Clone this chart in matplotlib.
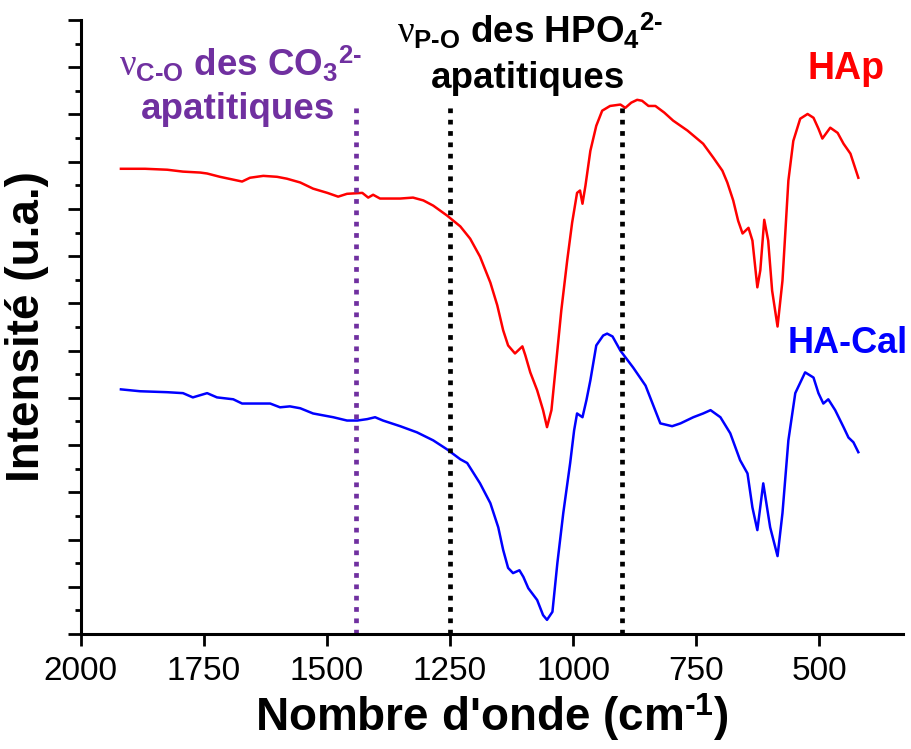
import numpy as np
import matplotlib
matplotlib.use("Agg")
import matplotlib.pyplot as plt
from matplotlib.ticker import MultipleLocator

# FTIR spectra, wavenumber (cm-1) vs intensity (u.a.)
hap_x = [1918, 1869, 1824, 1792, 1757, 1743, 1717, 1690, 1672, 1656, 1629, 1601, 1581, 1554,
         1528, 1499, 1477, 1459, 1428, 1416, 1406, 1392, 1351, 1325, 1304, 1284, 1256, 1229,
         1209, 1189, 1168, 1154, 1142, 1132, 1118, 1103, 1097, 1087, 1073, 1061, 1053, 1044,
         1034, 1024, 1012, 1002, 992, 986, 981, 975, 965, 953, 941, 925, 904, 894, 882, 870,
         860, 847, 833, 815, 797, 768, 736, 715, 697, 687, 675, 665, 656, 644, 636, 626, 620,
         612, 604, 596, 585, 575, 569, 563, 553, 539, 524, 512, 502, 494, 478, 463, 451, 437, 421]
hap_y = [9.85, 9.85, 9.83, 9.79, 9.77, 9.75, 9.68, 9.62, 9.58, 9.66, 9.70, 9.68, 9.64, 9.56,
         9.43, 9.34, 9.26, 9.32, 9.34, 9.24, 9.30, 9.22, 9.22, 9.24, 9.18, 9.07, 8.86, 8.63,
         8.37, 7.99, 7.44, 6.96, 6.43, 6.11, 5.94, 6.09, 5.90, 5.54, 5.16, 4.74, 4.38, 4.74,
         5.79, 6.85, 7.91, 8.71, 9.34, 9.39, 9.11, 9.49, 10.23, 10.76, 11.08, 11.18, 11.21, 11.14,
         11.25, 11.31, 11.29, 11.18, 11.18, 11.04, 10.87, 10.66, 10.38, 10.08, 9.81, 9.56, 9.18,
         8.75, 8.48, 8.60, 8.33, 7.34, 7.70, 8.77, 8.33, 7.27, 6.51, 7.48, 8.54, 9.60, 10.44,
         10.91, 11.01, 10.93, 10.70, 10.49, 10.72, 10.61, 10.38, 10.17, 9.66]

hacal_x = [1918, 1879, 1824, 1792, 1772, 1743, 1723, 1690, 1672, 1642, 1615, 1595, 1575, 1554,
           1528, 1487, 1459, 1438, 1418, 1402, 1386, 1351, 1317, 1284, 1256, 1229, 1215, 1189,
           1168, 1152, 1142, 1132, 1122, 1109, 1101, 1091, 1073, 1061, 1053, 1042, 1032, 1020,
           1006, 998, 992, 981, 973, 965, 953, 939, 931, 920, 904, 878, 853, 823, 799, 782, 756,
           736, 721, 701, 681, 661, 646, 636, 626, 614, 600, 585, 575, 563, 549, 529, 512, 502,
           492, 482, 468, 451, 441, 431, 421]
hacal_y = [5.18, 5.14, 5.12, 5.10, 5.01, 5.10, 5.01, 4.97, 4.88, 4.88, 4.88, 4.80, 4.82, 4.78,
           4.67, 4.59, 4.52, 4.52, 4.55, 4.59, 4.52, 4.40, 4.27, 4.10, 3.91, 3.70, 3.62, 3.19,
           2.77, 2.26, 1.78, 1.40, 1.29, 1.35, 1.21, 0.97, 0.72, 0.40, 0.30, 0.47, 1.50, 2.56,
           3.62, 4.31, 4.67, 4.59, 4.95, 5.37, 6.11, 6.32, 6.36, 6.30, 6.00, 5.64, 5.26, 4.46,
           4.40, 4.46, 4.59, 4.67, 4.74, 4.59, 4.25, 3.68, 3.40, 2.68, 2.20, 3.19, 2.26, 1.65,
           2.56, 4.10, 5.10, 5.54, 5.43, 5.10, 4.88, 4.97, 4.74, 4.38, 4.16, 4.06, 3.85]

# band positions marked with dotted lines
co3_band = 1440
hpo4_bands = [1250, 900]
band_top = 11.23

xticks = [2000, 1750, 1500, 1250, 1000, 750, 500]

plt.rcParams['font.family'] = 'Liberation Sans'
plt.rcParams['mathtext.fontset'] = 'custom'
plt.rcParams['mathtext.rm'] = 'Liberation Sans:bold'
plt.rcParams['mathtext.bf'] = 'Liberation Sans:bold'
plt.rcParams['mathtext.it'] = 'Liberation Serif'

purple = '#7030A0'

fig = plt.figure(figsize=(9.12, 7.49), dpi=100)
ax = fig.add_axes([0.0883, 0.1535, 0.902, 0.8198])

ax.plot(hap_x, hap_y, color='#FF0000', lw=1.8)
ax.plot(hacal_x, hacal_y, color='#0000FF', lw=1.8)

ax.plot([co3_band, co3_band], [0, band_top], color=purple, lw=3.4, ls=(0, (1, 1.4)))
for b in hpo4_bands:
    ax.plot([b, b], [0, band_top], color='black', lw=3.4, ls=(0, (1, 1.4)))

ax.set_xlim(2000, 330)
ax.set_ylim(0, 13)
ax.set_xticks(xticks)
ax.set_xticklabels([str(t) for t in xticks], fontsize=24)
ax.yaxis.set_major_locator(MultipleLocator(1))
ax.yaxis.set_minor_locator(MultipleLocator(0.5))
ax.set_yticklabels([])

ax.tick_params(axis='x', direction='out', length=8.6, width=2, pad=7)
ax.tick_params(axis='y', which='major', direction='out', length=9.4, width=2)
ax.tick_params(axis='y', which='minor', direction='out', length=4.3, width=2)
for s in ['top', 'right']:
    ax.spines[s].set_visible(False)
for s in ['left', 'bottom']:
    ax.spines[s].set_linewidth(2.2)

ax.set_xlabel(r"Nombre d'onde (cm$^{\text{-1}}$)", fontsize=33, fontweight='bold', labelpad=4)
ax.set_ylabel("Intensité (u.a.)", fontsize=33, fontweight='bold', labelpad=10)

# annotations
ax.text(1676, 11.80, r'$\nu_{\mathrm{C\text{-}O}}$ des CO$_{\mathrm{3}}$$^{\text{2-}}$',
        color=purple, fontsize=26.5, fontweight='bold', ha='center', va='baseline')
ax.text(1680, 10.91, 'apatitiques', color=purple, fontsize=26.5, fontweight='bold',
        ha='center', va='baseline')
ax.text(1087, 12.49, r'$\nu_{\mathrm{P\text{-}O}}$ des HPO$_{\mathrm{4}}$$^{\text{2-}}$',
        color='black', fontsize=26.5, fontweight='bold', ha='center', va='baseline')
ax.text(1091, 11.56, 'apatitiques', color='black', fontsize=26.5, fontweight='bold',
        ha='center', va='baseline')
ax.text(447, 11.75, 'HAp', color='#FF0000', fontsize=27, fontweight='bold',
        ha='center', va='baseline')
ax.text(443, 5.96, 'HA-Cal', color='#0000FF', fontsize=26, fontweight='bold',
        ha='center', va='baseline')

fig.savefig('out.png', dpi=100)
